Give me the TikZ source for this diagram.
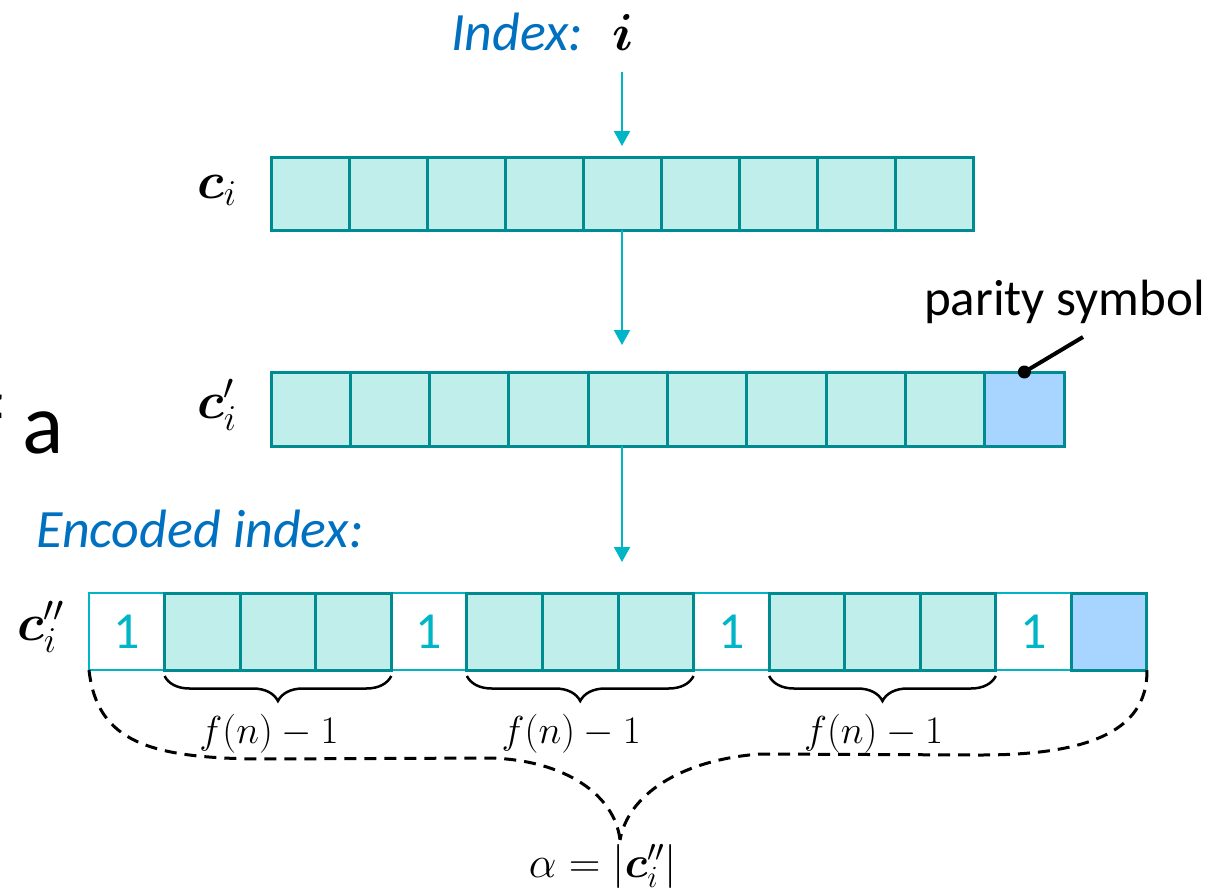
\RequirePackage{fix-cm}
\documentclass[tikz,border=0pt]{standalone}
\usepackage{amsmath}
\usepackage{bm}
\usepackage[no-math]{fontspec}
\setmainfont{Carlito}
\usetikzlibrary{arrows.meta,decorations.pathreplacing,calc}
\definecolor{tealfill}{RGB}{191,238,235}
\definecolor{tealline}{RGB}{0,139,145}
\definecolor{bluefill}{RGB}{168,213,255}
\definecolor{cyanline}{RGB}{0,182,198}
\definecolor{textblue}{RGB}{0,112,192}
\begin{document}
\begin{tikzpicture}[x=1pt,y=-1pt,
  cellbase/.style={inner sep=0pt,outer sep=0pt},
  cellA/.style={cellbase,draw=tealline,fill=tealfill,line width=3pt,minimum width=78pt,minimum height=73pt},
  cellB/.style={cellbase,draw=tealline,fill=tealfill,line width=3pt,minimum width=79.3pt,minimum height=74pt},
  cellBpar/.style={cellB,fill=bluefill},
  cellC/.style={cellbase,draw=tealline,fill=tealfill,line width=3pt,minimum width=75.57pt,minimum height=77pt},
  cellCpar/.style={cellC,fill=bluefill},
  cellW/.style={cellbase,draw=cyanline,fill=white,line width=2pt,minimum width=75.57pt,minimum height=77pt,
     text=cyanline,font=\fontsize{52}{60}\selectfont},
  arr/.style={draw=cyanline,line width=2pt,-{Triangle[width=16pt,length=15pt]}},
  lbl/.style={inner sep=0pt,anchor=base west},
  bluetxt/.style={lbl,text=textblue,font=\fontsize{54}{62}\selectfont\itshape},
  mathbig/.style={lbl,font=\fontsize{52}{60}\selectfont},
  brc/.style={draw=black,line width=2.5pt,decorate,decoration={brace,mirror,amplitude=25pt,raise=6pt}},
  fnl/.style={inner sep=0pt,anchor=base,font=\fontsize{39}{46}\selectfont},
  dashbrace/.style={draw=black,line width=3pt,dash pattern=on 12pt off 8pt}
]
\path[use as bounding box] (0,0) rectangle (1211,887);
\clip (0,0) rectangle (1211,887);

% row 1
\foreach \k in {0,...,8} \node[cellA] (a\k) at ({310+78*\k},193.5) {};
% row 2
\foreach \k in {0,...,8} \node[cellB] (b\k) at ({310.65+79.3*\k},409) {};
\node[cellBpar] (b9) at ({310.65+79.3*9},409) {};
% row 3
\foreach \k in {0,4,8,12} \node[cellW] (r\k) at ({126.79+75.57*\k},631.5) {1};
\foreach \k in {1,2,3,5,6,7,9,10,11} \node[cellC] (r\k) at ({126.79+75.57*\k},631.5) {};
\node[cellCpar] (r13) at ({126.79+75.57*13},631.5) {};

% texts
\node[bluetxt] (idx) at (451,50) {Index:};
\node[mathbig] (ii) at (612,50) {$\bm{i}$};
\node[mathbig] (la) at (197,198) {$\bm{c}_i$};
\node[mathbig] (lb) at (197,418) {$\bm{c}_i'$};
\node[mathbig] (lc) at (17,640) {$\bm{c}_i''$};
\node[bluetxt] (enc) at (36,547) {Encoded index:};
\node[lbl,font=\fontsize{51}{60}\selectfont] (par) at (924,315) {parity symbol};
\node[inner sep=0pt,anchor=base east,font=\fontsize{86}{96}\selectfont] (frag) at (64,453) {of a};

% arrows
\draw[arr,shorten <=22pt,shorten >=11pt] (a4.north |- ii.south) -- (a4.north);
\draw[arr,shorten >=27pt] (a4.south) -- (a4.south |- b4.north);
\draw[arr,shorten >=31pt] (a4.south |- b4.south) -- (a4.south |- r4.north);

% parity pointer
\coordinate (pl) at (1083,337);
\draw[line width=4pt] (pl) -- (b9.north);
\fill (b9.north) circle (6.5pt);

% braces
\draw[brc] (r1.south west) -- (r3.south east);
\draw[brc] (r5.south west) -- (r7.south east);
\draw[brc] (r9.south west) -- (r11.south east);
\path (r2.south) ++(-9,73) node[fnl] (f1) {$f(n)-1$};
\path (r6.south) ++(-9,73) node[fnl] (f2) {$f(n)-1$};
\path (r10.south) ++(-9,73) node[fnl] (f3) {$f(n)-1$};

% dashed big brace
\coordinate (tip) at (620,840);
\draw[dashbrace] (r0.south west) .. controls (97,742) and (150,758) .. (260,759)
   -- (490,758) .. controls (565,760) and (615,795) .. (tip);
\draw[dashbrace] (r13.south east) .. controls (1148,735) and (1080,755) .. (980,755)
   -- (760,754) .. controls (680,760) and (628,795) .. (tip);

\node[inner sep=0pt,anchor=base,font=\fontsize{44}{52}\selectfont] (al) at (603,877) {$\alpha = |\bm{c}_i''|$};
\end{tikzpicture}
\end{document}
